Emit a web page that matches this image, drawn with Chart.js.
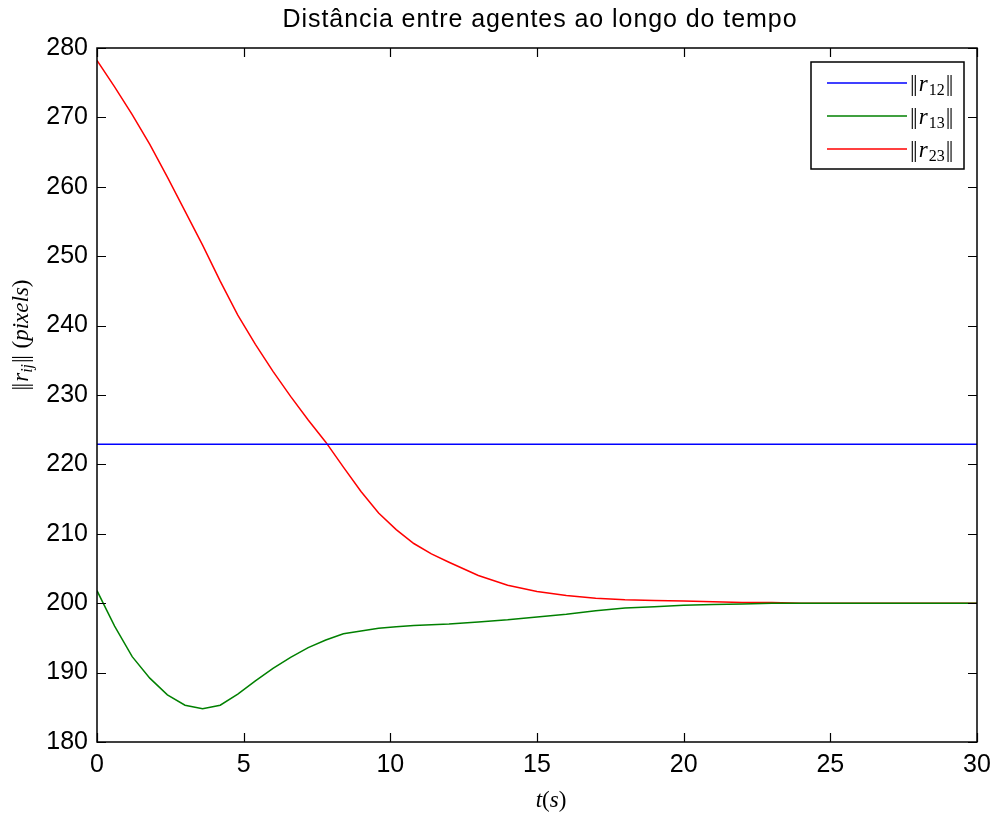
<!DOCTYPE html>
<html>
<head>
<meta charset="utf-8">
<script src="https://cdn.jsdelivr.net/npm/chart.js@4/dist/chart.umd.min.js"></script>
<style>
  body { margin: 0; background: #fff; }
  #wrap { width: 995px; height: 817px; }
</style>
</head>
<body>
<div id="wrap"><canvas id="distChart" width="995" height="817"></canvas></div>
<script>
// tempo de simulação (s)
var tempo = [0, 0.6, 1.2, 1.8, 2.4, 3, 3.6, 4.2, 4.8, 5.4, 6, 6.6, 7.2, 7.8, 8.4, 9, 9.6, 10.2, 10.8, 11.4,
             12, 13, 14, 15, 16, 17, 18, 19, 20, 21, 22, 23, 24, 25, 26, 27, 28, 29, 30];
// ||r12|| fica constante durante toda a simulação
var tempoR12 = [0, 30];
var r12 = [222.9, 222.9];
var r13 = [201.8, 196.7, 192.3, 189.2, 186.8, 185.3, 184.8, 185.3, 186.9, 188.8, 190.6, 192.2, 193.6, 194.7,
           195.6, 196.0, 196.4, 196.6, 196.8, 196.9, 197.0, 197.3, 197.6, 198.0, 198.4, 198.9, 199.3, 199.5,
           199.7, 199.8, 199.9, 200.0, 200, 200, 200, 200, 200, 200, 200];
var r23 = [278.2, 274.4, 270.4, 266.1, 261.4, 256.5, 251.6, 246.4, 241.5, 237.3, 233.4, 229.8, 226.4, 223.2,
           219.6, 216.1, 213.0, 210.6, 208.6, 207.1, 205.9, 204.0, 202.6, 201.7, 201.1, 200.7, 200.5, 200.4,
           200.3, 200.2, 200.1, 200.1, 200.0, 200, 200, 200, 200, 200, 200];
var nomes = ['12', '13', '23'];
var cores = ['#0000ff', '#008000', '#ff0000'];

var titulo = 'Distância entre agentes ao longo do tempo';
var xMin = 0, xMax = 30, xPasso = 5;
var yMin = 180, yMax = 280, yPasso = 10;

var SANS = "'Liberation Sans', Arial, Helvetica, sans-serif";
var SERIF = "'Liberation Serif', 'Times New Roman', serif";

function pontos(xs, ys) {
    return xs.map(function (t, i) { return { x: t, y: ys[i] }; });
}

// desenha texto com partes em fontes diferentes (itálico, subscrito)
function larguraRica(ctx, partes) {
    var w = 0;
    partes.forEach(function (p) { ctx.font = p.f; w += ctx.measureText(p.t).width + (p.gap || 0); });
    return w;
}
function textoRico(ctx, partes, x, y) {
    partes.forEach(function (p) {
        ctx.font = p.f;
        ctx.fillText(p.t, x, y + (p.dy || 0));
        x += ctx.measureText(p.t).width + (p.gap || 0);
    });
}
// barra dupla da norma desenhada com duas barras simples
function norma(f) {
    return [{ t: '|', f: f, gap: -1.5 }, { t: '|', f: f, gap: 1 }];
}

var normal = '23px ' + SERIF;
var italico = 'italic 23px ' + SERIF;
var sub = '16px ' + SERIF;
var subIt = 'italic 16px ' + SERIF;

var decoracao = {
    id: 'decoracao',
    afterDatasetsDraw: function (chart) {
        var ctx = chart.ctx, a = chart.chartArea;
        var sx = chart.scales.x, sy = chart.scales.y;
        ctx.save();

        // caixa dos eixos
        ctx.strokeStyle = '#000';
        ctx.lineWidth = 1.5;
        ctx.strokeRect(a.left, a.top, a.right - a.left, a.bottom - a.top);

        // marcas voltadas para dentro, nos quatro lados
        var len = 9;
        ctx.lineWidth = 1.2;
        ctx.beginPath();
        sx.ticks.forEach(function (t) {
            var px = Math.round(sx.getPixelForValue(t.value)) + 0.5;
            ctx.moveTo(px, a.bottom); ctx.lineTo(px, a.bottom - len);
            ctx.moveTo(px, a.top); ctx.lineTo(px, a.top + len);
        });
        sy.ticks.forEach(function (t) {
            var py = Math.round(sy.getPixelForValue(t.value)) + 0.5;
            ctx.moveTo(a.left, py); ctx.lineTo(a.left + len, py);
            ctx.moveTo(a.right, py); ctx.lineTo(a.right - len, py);
        });
        ctx.stroke();

        ctx.fillStyle = '#000';
        ctx.textBaseline = 'alphabetic';
        ctx.textAlign = 'left';

        // título
        ctx.font = '25px ' + SANS;
        var wBase = ctx.measureText(titulo).width;
        var alvo = 514;
        ctx.letterSpacing = Math.max(0, (alvo - wBase) / (titulo.length - 1)) + 'px';
        var wTit = ctx.measureText(titulo).width;
        ctx.fillText(titulo, 540 - wTit / 2, 27);
        ctx.letterSpacing = '0px';

        // rótulo do eixo x: t(s)
        var lx = [{ t: 't', f: italico }, { t: '(', f: normal }, { t: 's', f: italico }, { t: ')', f: normal }];
        var wx = larguraRica(ctx, lx);
        textoRico(ctx, lx, 551 - wx / 2, 807);

        // rótulo do eixo y: ||r_ij|| (pixels)
        var ly = norma(normal).concat([{ t: 'r', f: italico }, { t: 'ij', f: subIt, dy: 4, gap: 1 }],
                  norma(normal), [{ t: ' (', f: normal }, { t: 'pixels', f: italico }, { t: ')', f: normal }]);
        var wy = larguraRica(ctx, ly);
        ctx.save();
        ctx.translate(28, 335);
        ctx.rotate(-Math.PI / 2);
        textoRico(ctx, ly, -wy / 2, 0);
        ctx.restore();

        // legenda
        var bx = 811, by = 62, bw = 153, bh = 107;
        ctx.fillStyle = '#fff';
        ctx.fillRect(bx, by, bw, bh);
        ctx.strokeStyle = '#000';
        ctx.lineWidth = 1.5;
        ctx.strokeRect(bx, by, bw, bh);
        chart.data.datasets.forEach(function (ds, i) {
            var yy = by + 21 + i * 33;
            ctx.strokeStyle = ds.borderColor;
            ctx.lineWidth = 1.5;
            ctx.beginPath();
            ctx.moveTo(827, yy); ctx.lineTo(907, yy);
            ctx.stroke();
            ctx.fillStyle = '#000';
            var partes = norma(normal).concat([{ t: 'r', f: italico, gap: 1 }, { t: nomes[i], f: sub, dy: 4, gap: 1 }],
                                              norma(normal));
            textoRico(ctx, partes, 910, yy + 8);
        });

        ctx.restore();
    }
};

var ctx = document.getElementById('distChart').getContext('2d');
new Chart(ctx, {
    type: 'line',
    data: {
        datasets: [
            { label: '||r12||', data: pontos(tempoR12, r12), borderColor: cores[0] },
            { label: '||r13||', data: pontos(tempo, r13), borderColor: cores[1] },
            { label: '||r23||', data: pontos(tempo, r23), borderColor: cores[2] }
        ]
    },
    options: {
        responsive: false,
        animation: false,
        events: [],
        parsing: false,
        elements: {
            line: { borderWidth: 1.5, tension: 0, fill: false },
            point: { radius: 0 }
        },
        layout: { padding: { left: 0, top: 48, right: 18, bottom: 0 } },
        plugins: {
            legend: { display: false },
            title: { display: false },
            tooltip: { enabled: false }
        },
        scales: {
            x: {
                type: 'linear',
                min: xMin, max: xMax,
                ticks: { stepSize: xPasso, padding: 8, color: '#000', font: { family: SANS, size: 25 } },
                grid: { display: false, drawTicks: false },
                border: { display: false },
                afterFit: function (s) { s.height = 75; s.paddingLeft = 0; s.paddingRight = 0; }
            },
            y: {
                type: 'linear',
                min: yMin, max: yMax,
                ticks: { stepSize: yPasso, padding: 9, color: '#000', font: { family: SANS, size: 25 } },
                grid: { display: false, drawTicks: false },
                border: { display: false },
                afterFit: function (s) { s.width = 97; s.paddingTop = 0; s.paddingBottom = 0; }
            }
        }
    },
    plugins: [decoracao]
});
</script>
</body>
</html>
